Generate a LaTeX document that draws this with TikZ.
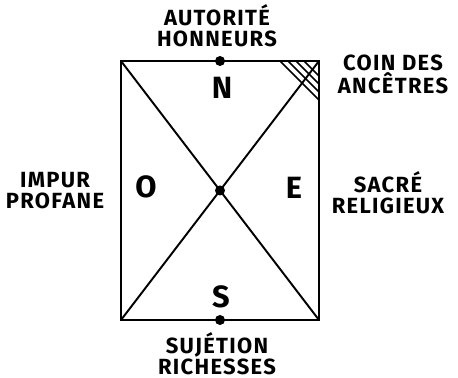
\documentclass[tikz,border=0pt]{standalone}
\usepackage{fontspec}
\setmainfont{Fira Sans}
\newfontfamily\lettering[LetterSpace=6]{Fira Sans}
\usepackage{tikz}
\usetikzlibrary{positioning,calc}
\tikzset{
  frame/.style={line width=1.7pt},
  diag/.style={line width=1.1pt},
  hatch/.style={line width=0.9pt},
  dot/.style={circle,fill,inner sep=0pt,minimum size=0.2cm},
  cardinal/.style={font=\fontsize{17.5}{17}\selectfont\bfseries},
  lbl/.style={font=\lettering\fontsize{12.5}{12}\selectfont\bfseries,align=center,inner sep=0pt}
}

\begin{document}
\begin{tikzpicture}[x=0.02cm,y=-0.02cm]
  \useasboundingbox (0,0) rectangle (458,378);
  \coordinate (nw) at (121,61);
  \coordinate (ne) at (319,61);
  \coordinate (se) at (319,320);
  \coordinate (sw) at (121,320);
  % the house and its diagonals
  \draw[diag] (nw) -- (se) (ne) -- (sw);
  \draw[frame] (nw) rectangle (se);
  \foreach \x in {280,288,296,304}
    \draw[hatch] (\x,61) -- (319,61+319-\x);
  \node[dot] (mid) at (220,190.5) {};
  \node[dot] (north) at (220,61) {};
  \node[dot] (south) at (220,320) {};
  % cardinal points
  \node[cardinal] (lN) at (222,88) {N};
  \node[cardinal] (lO) at (146,187) {O};
  \node[cardinal] (lE) at (294,188) {E};
  \node[cardinal] (lS) at (221,297) {S};
  % labels
  \node[lbl] (top) at (217,26) {AUTORITÉ\\HONNEURS};
  \node[lbl] (corner) at (393,74) {COIN DES\\ANCÊTRES};
  \node[lbl] (west) at (55,191) {IMPUR\\PROFANE};
  \node[lbl] (east) at (388,193) {SACRÉ\\RELIGIEUX};
  \node[lbl] (bottom) at (217,353.5) {SUJÉTION\\RICHESSES};
\end{tikzpicture}
\end{document}
